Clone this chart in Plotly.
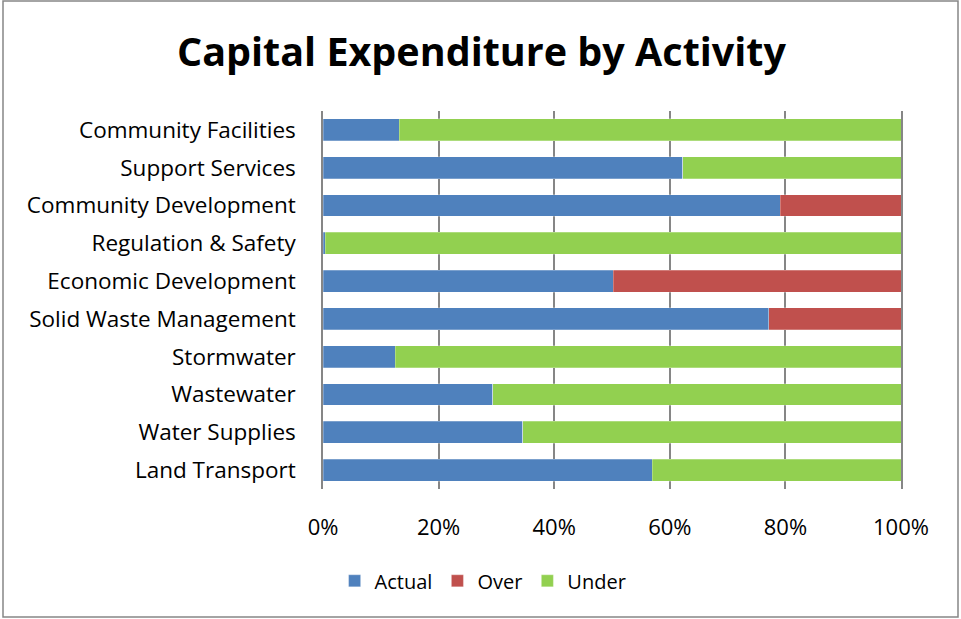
import plotly.graph_objects as go

categories = ["Land Transport", "Water Supplies", "Wastewater", "Stormwater",
              "Solid Waste Management", "Economic Development", "Regulation & Safety",
              "Community Development", "Support Services", "Community Facilities"]
actual = [0.570, 0.346, 0.294, 0.125, 0.771, 0.502, 0.004, 0.791, 0.622, 0.132]
over   = [0.000, 0.000, 0.000, 0.000, 0.229, 0.498, 0.000, 0.209, 0.000, 0.000]
under  = [0.430, 0.654, 0.706, 0.875, 0.000, 0.000, 0.996, 0.000, 0.378, 0.868]

series_names = ["Actual", "Over", "Under"]
series_colors = ["#4F81BD", "#C0504D", "#92D050"]
tick_vals = [0, 0.2, 0.4, 0.6, 0.8, 1.0]
tick_text = ["0%", "20%", "40%", "60%", "80%", "100%"]

FONT = "Open Sans"
fig = go.Figure()
for name, vals, col in zip(series_names, [actual, over, under], series_colors):
    fig.add_trace(go.Bar(
        y=categories, x=vals, name=name, orientation="h",
        marker=dict(color=col, line=dict(color="rgba(255,255,255,0.5)", width=0.5)),
    ))

fig.update_layout(
    barmode="stack",
    bargap=0.42,
    width=961, height=619,
    margin=dict(l=323, r=60, t=111, b=130),
    paper_bgcolor="white", plot_bgcolor="white",
    title=dict(text="<b>Capital Expenditure by Activity</b>",
               font=dict(family=FONT, size=39.5, color="black"),
               x=481.5 / 961, xref="container", xanchor="center",
               y=0.915, yref="container", yanchor="middle"),
    font=dict(family=FONT, color="black"),
    legend=dict(orientation="h", x=0.277, xanchor="center", y=-0.243, yanchor="middle",
                font=dict(family=FONT, size=20, color="black"), traceorder="normal",
                itemwidth=30),
    showlegend=True,
    xaxis=dict(range=[0, 1], tickvals=tick_vals, ticktext=tick_text,
               showgrid=True, gridcolor="#868686", gridwidth=1.5,
               zeroline=False, showline=False,
               tickfont=dict(family=FONT, size=22, color="black"),
               ticks="", ticklabelstandoff=23, fixedrange=True),
    yaxis=dict(showgrid=False, zeroline=False,
               showline=True, mirror=True, linecolor="#868686", linewidth=1.5,
               tickfont=dict(family=FONT, size=22.5, color="black"),
               ticks="", ticklabelstandoff=21, fixedrange=True),
    shapes=[dict(type="rect", xref="paper", yref="paper",
                 x0=-320/578, x1=635/578, y0=(489-617)/378, y1=(489-1)/378,
                 line=dict(color="#868686", width=1.5), fillcolor="rgba(0,0,0,0)", layer="below")],
)

fig.write_html("out.html", config={"displayModeBar": False},
               post_script="document.body.style.margin='0px';")
